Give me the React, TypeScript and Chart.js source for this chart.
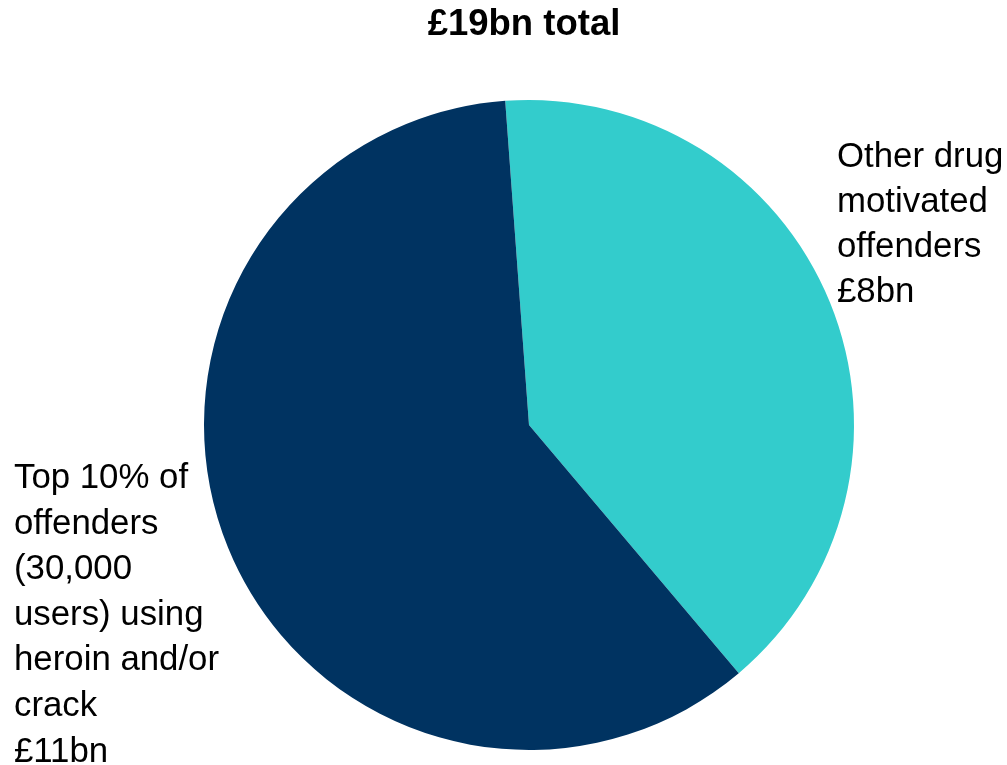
import React, { useEffect, useRef } from "react";
import { Chart, registerables } from "chart.js";

Chart.register(...registerables);

const categories = ["Other drug motivated offenders", "Top 10% of offenders (30,000 users) using heroin and/or crack"];
const values = [7.6, 11.4];
const colors = ["#33CCCC", "#003361"];
const titleText = "£19bn total";
const rightLabel = ["Other drug", "motivated", "offenders", "£8bn"];
const leftLabel = ["Top 10% of", "offenders", "(30,000", "users) using", "heroin and/or", "crack", "£11bn"];

const FONT = '"Liberation Sans", Arial, sans-serif';

const textPlugin = {
  id: "textPlugin",
  afterDraw(chart: any) {
    const ctx = chart.ctx;
    ctx.save();
    ctx.fillStyle = "#000000";
    ctx.textBaseline = "alphabetic";
    ctx.font = `bold 36.5px ${FONT}`;
    ctx.textAlign = "center";
    ctx.fillText(titleText, 524, 35);
    ctx.font = `34.8px ${FONT}`;
    ctx.textAlign = "left";
    rightLabel.forEach((t, i) => ctx.fillText(t, 837, 167 + i * 45));
    leftLabel.forEach((t, i) => ctx.fillText(t, 14, 488 + i * 45.6));
    ctx.restore();
  },
};

export default function App() {
  const ref = useRef<HTMLCanvasElement>(null);
  useEffect(() => {
    if (!ref.current) return;
    const chart = new Chart(ref.current, {
      type: "pie",
      data: {
        labels: categories,
        datasets: [
          {
            data: values,
            backgroundColor: colors,
            borderWidth: 0,
          },
        ],
      },
      options: {
        responsive: false,
        animation: false,
        rotation: -4.2,
        layout: { padding: { left: 204, right: 153, top: 100, bottom: 15 } },
        plugins: {
          legend: { display: false },
          title: { display: false },
          tooltip: { enabled: false },
        },
      },
      plugins: [textPlugin],
    });
    return () => chart.destroy();
  }, []);
  return (
    <div style={{ position: "fixed", left: 0, top: 0, width: 1007, height: 765, background: "#ffffff" }}>
      <canvas ref={ref} width={1007} height={765} style={{ display: "block" }} />
    </div>
  );
}
